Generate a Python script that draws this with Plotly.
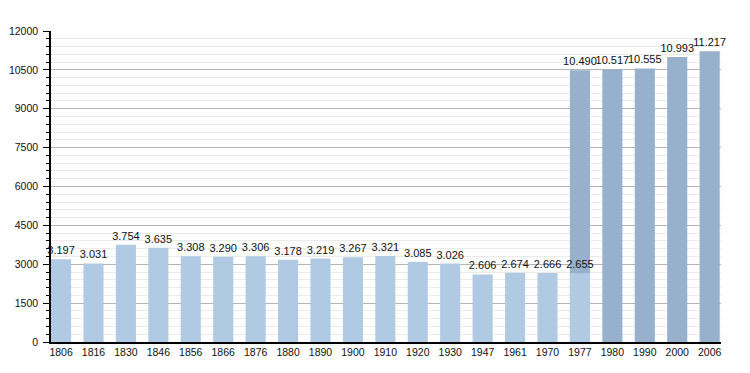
import plotly.graph_objects as go

years = ["1806", "1816", "1830", "1846", "1856", "1866", "1876", "1880", "1890", "1900",
         "1910", "1920", "1930", "1947", "1961", "1970", "1977", "1980", "1990", "2000", "2006"]
old_years = years[:17]
old_values = [3197, 3031, 3754, 3635, 3308, 3290, 3306, 3178, 3219, 3267,
              3321, 3085, 3026, 2606, 2674, 2666, 2655]
new_years = ["1977", "1980", "1990", "2000", "2006"]
new_values = [10490, 10517, 10555, 10993, 11217]
y_ticks = [0, 1500, 3000, 4500, 6000, 7500, 9000, 10500, 12000]

LIGHT = "#b1cae4"
DARK = "#97b1cd"
FONT = "Liberation Sans, Arial, sans-serif"


def fmt(v):
    return f"{v:,}".replace(",", ".")


fig = go.Figure()
fig.add_trace(go.Bar(
    x=new_years, y=new_values, marker=dict(color=DARK, line=dict(width=0)),
    width=0.62, text=[fmt(v) for v in new_values], textposition="outside",
    constraintext="none", cliponaxis=False,
    textfont=dict(family=FONT, size=11, color="#111111"), hoverinfo="skip"))
fig.add_trace(go.Bar(
    x=old_years, y=old_values, marker=dict(color=LIGHT, line=dict(width=0)),
    width=0.62, text=[fmt(v) for v in old_values], textposition="outside",
    constraintext="none", cliponaxis=False,
    textfont=dict(family=FONT, size=11, color="#111111"), hoverinfo="skip"))

fig.update_layout(
    width=750, height=373, barmode="overlay", showlegend=False,
    margin=dict(l=51, r=29, t=31, b=31),
    paper_bgcolor="white", plot_bgcolor="white",
    font=dict(family=FONT, size=10, color="#111111"),
    xaxis=dict(type="category", categoryorder="array", categoryarray=years,
               range=[-0.31, 20.35], showgrid=False, ticks="", automargin=False,
               showline=True, linecolor="black", linewidth=1.5,
               tickfont=dict(size=10.5)),
    yaxis=dict(range=[0, 12000], tickvals=y_ticks, tickformat="d",
               showgrid=True, gridcolor="#b4b4b4", gridwidth=1,
               ticks="outside", ticklen=6, tickcolor="black",
               ticklabelstandoff=3, automargin=False,
               showline=True, linecolor="black", linewidth=1.5,
               zeroline=False, tickfont=dict(size=10.5),
               minor=dict(dtick=300, showgrid=True, gridcolor="#ebebeb",
                          ticks="outside", ticklen=3, tickcolor="black")),
)

fig.write_html("out.html")
